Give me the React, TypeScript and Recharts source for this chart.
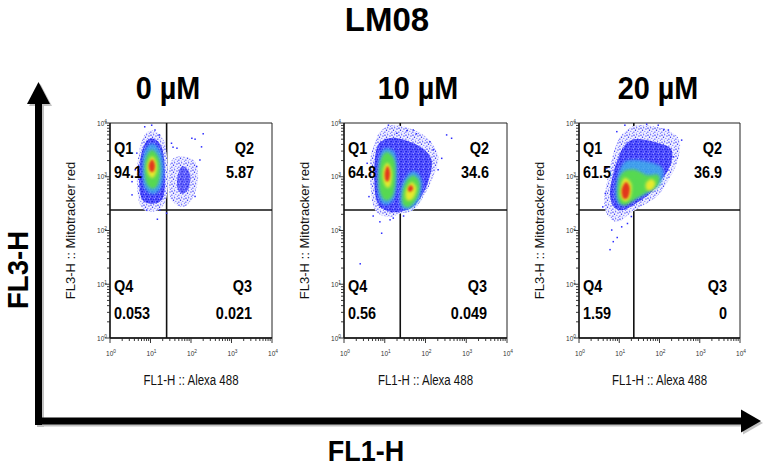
import React from 'react';
import { ScatterChart, Scatter, XAxis, YAxis, ReferenceLine, ReferenceArea } from 'recharts';

// ---------- data ----------
const AXIS_TICKS = [1, 2, 3, 4, 5, 6, 7, 8, 9, 10, 20, 30, 40, 50, 60, 70, 80, 90, 100, 200, 300, 400, 500, 600, 700, 800, 900, 1000, 2000, 3000, 4000, 5000, 6000, 7000, 8000, 9000, 10000];
const TICK_EXP: Record<number, string> = { 1: '0', 10: '1', 100: '2', 1000: '3', 10000: '4' };

const TITLES = ['0 µM', '10 µM', '20 µM'];
const QUAD_NAMES = ['Q1', 'Q2', 'Q3', 'Q4'];
const pct0 = [94.1, 5.87, 0.021, 0.053];
const pct10 = [64.8, 34.6, 0.049, 0.56];
const pct20 = [61.5, 36.9, 0, 1.59];
const gateX = [25, 24, 23];
const gateY = [240, 240, 240];

// 0 µM density contours [FL1, FL3]
const p1Halo = [[9.8, 7200], [20, 5200], [26, 2000], [25, 420], [14, 230], [5.8, 280], [4.6, 1000], [5.8, 4200]];
const p1Halo2 = [[45, 2350], [115, 2050], [150, 1000], [115, 430], [65, 275], [33, 370], [28, 760], [30, 1660]];
const p1Dense = [[10, 5200], [19, 3550], [23, 1000], [20, 400], [11, 316], [6, 400], [5.2, 1120], [6.3, 3160]];
const p1Dense2 = [[63, 1585], [95, 1120], [89, 630], [63, 480], [46, 630], [48, 1120]];
const p1Cyan = [[11.2, 4170], [18, 2820], [21, 1260], [17.4, 600], [11.2, 480], [7.2, 630], [6.3, 1410], [7.2, 3020]];
const p1Green = [[11, 3160], [15.8, 2290], [17.4, 1260], [15.1, 720], [11, 600], [8, 760], [7.2, 1320], [8, 2400]];
const p1Yellow = [[10.7, 2400], [13.8, 1900], [14.1, 1260], [11.5, 950], [8.9, 1100], [8.3, 1660]];
const p1Red = [[11, 2090], [12.9, 1660], [12, 1260], [9.8, 1260], [9.1, 1660]];
const p1Dots = [[200, 6300], [126, 5000], [105, 5200], [182, 3600], [33, 4200], [36, 3550], [16.6, 6000], [12.9, 7400], [7.2, 8500], [10.7, 9100], [3.5, 460], [4.2, 1350], [14.8, 162], [25, 210], [17, 240], [8.1, 240], [138, 1550], [166, 2050], [126, 430], [45, 3400], [3.5, 810], [4.6, 2750]];

// 10 µM
const p2Halo = [[8.4, 7400], [19.5, 9100], [89, 6000], [204, 2500], [155, 1000], [89, 430], [50, 240], [23.4, 204], [12.3, 178], [5.8, 240], [4.5, 650], [4.4, 2040], [5.8, 4470]];
const p2Dense = [[9.2, 4800], [21, 5200], [74, 3630], [141, 2040], [117, 810], [66, 350], [35, 240], [13.5, 224], [6.6, 324], [5.5, 1000], [6.2, 3160]];
const p2CyanL = [[10.8, 3400], [18, 2700], [20, 1000], [17, 400], [10.5, 300], [7.2, 420], [6.8, 1150], [7.8, 2600]];
const p2CyanR = [[54, 1250], [80, 850], [70, 380], [40, 250], [25, 290], [25, 620], [36, 1050]];
const p2GreenL = [[11.5, 2880], [17.4, 2000], [18.2, 890], [15.8, 450], [10.5, 363], [7.6, 525], [7.2, 1120], [8.3, 2240]];
const p2GreenR = [[52, 1050], [72, 760], [63, 417], [40, 275], [27.5, 316], [28, 560], [36, 890]];
const p2YellowL = [[11.7, 1820], [14.8, 1260], [14.1, 720], [11.2, 630], [9.1, 890], [9.3, 1410]];
const p2YellowR = [[48, 794], [60, 603], [50, 398], [36, 363], [32, 479], [38, 692]];
const p2RedL = [[11.7, 1580], [13.5, 1200], [12.6, 850], [10.5, 850], [10, 1175]];
const p2RedR = [[46, 690], [50, 590], [42, 525], [37, 575], [40, 676]];
const p2Dots = [[437, 5200], [330, 6000], [50, 7400], [60, 6300], [155, 3160], [250, 2200], [12.3, 9100], [19.5, 6450], [2.5, 24], [8.4, 89], [7.6, 145], [13.5, 158], [5.2, 186], [204, 1350], [129, 4470], [35, 7200], [16.2, 170], [29, 186], [3.7, 1780], [4.1, 427]];

// 20 µM
const p3Halo = [[13.8, 6900], [27, 9100], [85, 8500], [219, 6450], [324, 4170], [269, 1780], [151, 760], [85, 427], [40, 295], [18.6, 209], [9.5, 145], [5.4, 182], [4.2, 324], [4.9, 760], [6.5, 2040], [8.9, 4470]];
const p3Dense = [[17, 4470], [33, 5000], [102, 4170], [200, 3160], [182, 1550], [102, 810], [58, 490], [27, 324], [12.6, 240], [7.4, 275], [5.9, 490], [7.1, 1150], [10.5, 2750]];
const p3Cyan = [[12.6, 1780], [24.5, 2040], [71, 1780], [123, 1350], [102, 708], [48, 490], [22.4, 372], [11.5, 295], [8.3, 398], [8.7, 870]];
const p3Green = [[12.6, 1230], [24.5, 1350], [48, 1070], [93, 1070], [93, 708], [52, 525], [27, 398], [13.8, 295], [9.5, 372], [9.5, 810]];
const p3YellowL = [[14.1, 955], [20, 724], [19, 417], [13.8, 347], [10.7, 437], [11.2, 724]];
const p3YellowR = [[63, 912], [79, 759], [66, 575], [48, 575], [46, 759]];
const p3Red = [[14.5, 794], [18.2, 631], [16.6, 417], [12.6, 398], [11.5, 575]];
const p3Dots = [[5.9, 44], [7.1, 62], [8.9, 74], [6.5, 102], [11.5, 117], [3.9, 275], [93, 9100], [166, 7400], [48, 9500], [13.8, 9100], [355, 4800], [4.9, 1450], [8.7, 6900], [219, 2350], [129, 7600], [20, 182], [16, 135], [4.5, 490]];

// ---------- layout / style ----------
const FONT = "'Liberation Sans', Arial, Helvetica, sans-serif";
const CHART_LEFT = [80, 314, 549];
const CHART_W = [202, 203, 201];
const CHART_TOP = 113;
const CHART_H = 255;
const PLOT_X0 = [110, 344, 579];
const PLOT_X1 = [272, 507, 740];
const Q3_DX = [20, 20, 13];

const LAYER_STYLE: Record<string, any> = {
  halo: { fill: 'url(#speckA)' },
  haloLight: { fill: 'url(#speckA)' },
  dense: { fill: 'url(#speckD)' },
  denseLight: { fill: 'url(#speckD)', opacity: 0.85, blur: 'soft0' },
  cyan: { fill: '#3fb4ea', opacity: 0.8, blur: 'soft2' },
  green: { fill: '#58dc48', opacity: 0.95, blur: 'soft2' },
  yellow: { fill: '#e6ea2e', blur: 'soft2' },
  red: { fill: '#e2381c', blur: 'soft1' },
};

const toPts = (arr: number[][]) => arr.map(([x, y]) => ({ x, y }));

const panels = [
  { pct: pct0, layers: [['halo', p1Halo], ['haloLight', p1Halo2], ['dots', p1Dots], ['dense', p1Dense], ['denseLight', p1Dense2], ['cyan', p1Cyan], ['green', p1Green], ['yellow', p1Yellow], ['red', p1Red]] },
  { pct: pct10, layers: [['halo', p2Halo], ['dots', p2Dots], ['dense', p2Dense], ['cyan', p2CyanL], ['cyan', p2CyanR], ['green', p2GreenL], ['green', p2GreenR], ['yellow', p2YellowL], ['yellow', p2YellowR], ['red', p2RedL], ['red', p2RedR]] },
  { pct: pct20, layers: [['halo', p3Halo], ['dots', p3Dots], ['dense', p3Dense], ['cyan', p3Cyan], ['green', p3Green], ['yellow', p3YellowL], ['yellow', p3YellowR], ['red', p3Red]] },
];

function closedPath(pts: { x: number; y: number }[]) {
  const n = pts.length;
  let d = `M${pts[0].x},${pts[0].y}`;
  for (let i = 0; i < n; i++) {
    const p0 = pts[(i - 1 + n) % n];
    const p1 = pts[i];
    const p2 = pts[(i + 1) % n];
    const p3 = pts[(i + 2) % n];
    const c1x = p1.x + (p2.x - p0.x) / 6;
    const c1y = p1.y + (p2.y - p0.y) / 6;
    const c2x = p2.x - (p3.x - p1.x) / 6;
    const c2y = p2.y - (p3.y - p1.y) / 6;
    d += ` C${c1x},${c1y} ${c2x},${c2y} ${p2.x},${p2.y}`;
  }
  return d + ' Z';
}

function Blob(props: any) {
  const { points, tone, tint, blur } = props;
  if (!points || points.length < 3) return null;
  return (
    <path d={closedPath(points)} fill={tone} opacity={tint ?? 1} stroke="none" filter={blur ? `url(#${blur})` : undefined} />
  );
}

const NoShape = () => <g />;
const DotShape = (p: any) => <rect x={p.cx - 0.75} y={p.cy - 0.75} width={1.5} height={1.5} fill="#2b2bff" />;

const XTick = (p: any) => {
  const v = p.payload.value;
  const exp = TICK_EXP[v];
  const major = exp !== undefined;
  return (
    <g>
      <line x1={p.x} x2={p.x} y1={p.y} y2={p.y + (major ? 5 : 3)} stroke="#222" strokeWidth={0.9} />
      {major && (
        <text x={p.x + 1} y={p.y + 18} textAnchor="middle" fontSize={6.5} fill="#333" fontFamily={FONT}>
          10<tspan dy={-3} fontSize={4.8}>{exp}</tspan>
        </text>
      )}
    </g>
  );
};

const YTick = (p: any) => {
  const v = p.payload.value;
  const exp = TICK_EXP[v];
  const major = exp !== undefined;
  return (
    <g>
      <line x1={p.x} x2={p.x - (major ? 5 : 3)} y1={p.y} y2={p.y} stroke="#222" strokeWidth={0.9} />
      {major && (
        <text x={p.x - 3} y={p.y + 2.5} textAnchor="end" fontSize={6.5} fill="#333" fontFamily={FONT}>
          10<tspan dy={-3} fontSize={4.8}>{exp}</tspan>
        </text>
      )}
    </g>
  );
};

function T(props: any) {
  const { x, y, size, sx = 1, anchor = 'start', weight = 'bold', rot = 0, fill = '#000', children } = props;
  return (
    <text transform={`translate(${x},${y}) rotate(${rot}) scale(${sx},1)`} fontSize={size} fontWeight={weight} textAnchor={anchor} fill={fill} fontFamily={FONT}>
      {children}
    </text>
  );
}

function Defs() {
  return (
    <svg width={0} height={0} style={{ position: 'absolute', left: 0, top: 0 }}>
      <defs>
        <pattern id="speckA" patternUnits="userSpaceOnUse" width={7} height={7}>
          <rect x={0} y={0} width={7} height={7} fill="#f1f1ff" />
          <rect x={0.4} y={0.6} width={1.2} height={1.2} fill="#2424ff" />
          <rect x={3.1} y={0.2} width={1.1} height={1.1} fill="#4a4aff" />
          <rect x={5.4} y={1.5} width={1.1} height={1.1} fill="#2a2af5" />
          <rect x={1.9} y={2.6} width={1.2} height={1.2} fill="#2020f0" />
          <rect x={4.3} y={3.9} width={1.0} height={1.0} fill="#6a6aff" />
          <rect x={0.3} y={4.6} width={1.1} height={1.1} fill="#3030ff" />
          <rect x={2.8} y={5.6} width={1.0} height={1.0} fill="#8a8aff" />
          <rect x={5.9} y={5.8} width={0.9} height={0.9} fill="#3c3cff" />
        </pattern>
        <pattern id="speckD" patternUnits="userSpaceOnUse" width={5} height={5}>
          <rect x={0} y={0} width={5} height={5} fill="#5c5cff" />
          <rect x={0.3} y={0.4} width={1.4} height={1.4} fill="#1414e6" />
          <rect x={2.8} y={0.9} width={1.3} height={1.3} fill="#2020f0" />
          <rect x={1.4} y={2.9} width={1.4} height={1.4} fill="#1010dd" />
          <rect x={3.8} y={3.4} width={1.1} height={1.1} fill="#2a2aff" />
          <rect x={4.1} y={0.0} width={0.8} height={0.8} fill="#b8b8ff" />
          <rect x={0.2} y={3.6} width={0.8} height={0.8} fill="#a0a0ff" />
        </pattern>
        <filter id="soft0" x="-50%" y="-50%" width="200%" height="200%">
          <feGaussianBlur stdDeviation={0.6} />
        </filter>
        <filter id="soft1" x="-50%" y="-50%" width="200%" height="200%">
          <feGaussianBlur stdDeviation={0.9} />
        </filter>
        <filter id="soft2" x="-50%" y="-50%" width="200%" height="200%">
          <feGaussianBlur stdDeviation={1.5} />
        </filter>
      </defs>
    </svg>
  );
}

function Panel({ idx }: { idx: number }) {
  const panel = panels[idx];
  return (
    <ScatterChart width={CHART_W[idx]} height={CHART_H} margin={{ top: 10, right: 10, bottom: 10, left: 10 }}>
      <XAxis dataKey="x" type="number" scale="log" domain={[1, 10000]} ticks={AXIS_TICKS} interval={0} tick={XTick} tickLine={false} tickSize={0} tickMargin={0} axisLine={{ stroke: '#111', strokeWidth: 1.3 }} height={20} allowDataOverflow />
      <YAxis dataKey="y" type="number" scale="log" domain={[1, 10000]} ticks={AXIS_TICKS} interval={0} tick={YTick} tickLine={false} tickSize={0} tickMargin={0} axisLine={{ stroke: '#111', strokeWidth: 1.3 }} width={20} allowDataOverflow />
      {panel.layers.map(([kind, arr]: any, i: number) => {
        if (kind === 'dots') {
          return <Scatter key={i} data={toPts(arr)} shape={DotShape} isAnimationActive={false} />;
        }
        const st = LAYER_STYLE[kind];
        return (
          <Scatter
            key={i}
            data={toPts(arr)}
            line={<Blob tone={st.fill} tint={st.opacity} blur={st.blur} />}
            lineType="joint"
            shape={NoShape}
            isAnimationActive={false}
          />
        );
      })}
      <ReferenceLine x={gateX[idx]} stroke="#111" strokeWidth={1.6} />
      <ReferenceLine y={gateY[idx]} stroke="#111" strokeWidth={1.6} />
      <ReferenceArea x1={1} x2={10000} y1={1} y2={10000} fill="none" fillOpacity={0} stroke="#222" strokeWidth={1} />
    </ScatterChart>
  );
}

export default function App() {
  const yMid = 230.5;
  return (
    <div style={{ position: 'absolute', left: 0, top: 0, width: 764, height: 469, background: '#fff', overflow: 'hidden', fontFamily: FONT }}>
      <Defs />
      {panels.map((_, i) => (
        <div key={i} style={{ position: 'absolute', left: CHART_LEFT[i], top: CHART_TOP }}>
          <Panel idx={i} />
        </div>
      ))}
      <svg width={764} height={469} style={{ position: 'absolute', left: 0, top: 0, pointerEvents: 'none' }}>
        {/* big axis arrows (shadow then black) */}
        <g fill="#9a9a9a" opacity={0.6} transform="translate(2,2)">
          <rect x={35} y={100} width={7} height={325} />
          <rect x={35} y={417.5} width={708} height={7} />
          <polygon points="38.5,82 27,104 50,104" />
          <polygon points="761,421 741,409.5 741,432.5" />
        </g>
        <g fill="#000">
          <rect x={35} y={100} width={7} height={325} />
          <rect x={35} y={417.5} width={708} height={7} />
          <polygon points="38.5,82 27,104 50,104" />
          <polygon points="761,421 741,409.5 741,432.5" />
        </g>

        <T x={387} y={31} size={33} anchor="middle">LM08</T>
        {TITLES.map((t, i) => (
          <T key={t} x={[168, 418, 658][i]} y={99} size={31} sx={0.93} anchor="middle">{t}</T>
        ))}
        <T x={366} y={461} size={30} sx={0.9} anchor="middle">FL1-H</T>
        <T x={28} y={270} size={30} sx={0.92} anchor="middle" rot={-90}>FL3-H</T>

        {panels.map((p, i) => {
          const x0 = PLOT_X0[i];
          const x1 = PLOT_X1[i];
          return (
            <g key={i}>
              <T x={x0 - 35} y={yMid} size={13} weight="normal" anchor="middle" rot={-90} fill="#111">FL3-H :: Mitotracker red</T>
              <T x={(x0 + x1) / 2} y={385} size={14} sx={0.82} weight="normal" anchor="middle" fill="#111">FL1-H :: Alexa 488</T>
              <T x={x0 + 4} y={154} size={17} sx={0.85}>{QUAD_NAMES[0]}</T>
              <T x={x0 + 4} y={178} size={17} sx={0.85}>{String(p.pct[0])}</T>
              <T x={x1 - 18} y={154} size={17} sx={0.85} anchor="end">{QUAD_NAMES[1]}</T>
              <T x={x1 - 18} y={178} size={17} sx={0.85} anchor="end">{String(p.pct[1])}</T>
              <T x={x1 - Q3_DX[i]} y={292} size={17} sx={0.85} anchor="end">{QUAD_NAMES[2]}</T>
              <T x={x1 - Q3_DX[i]} y={319} size={17} sx={0.85} anchor="end">{String(p.pct[2])}</T>
              <T x={x0 + 4} y={292} size={17} sx={0.85}>{QUAD_NAMES[3]}</T>
              <T x={x0 + 4} y={319} size={17} sx={0.85}>{String(p.pct[3])}</T>
            </g>
          );
        })}
      </svg>
    </div>
  );
}
